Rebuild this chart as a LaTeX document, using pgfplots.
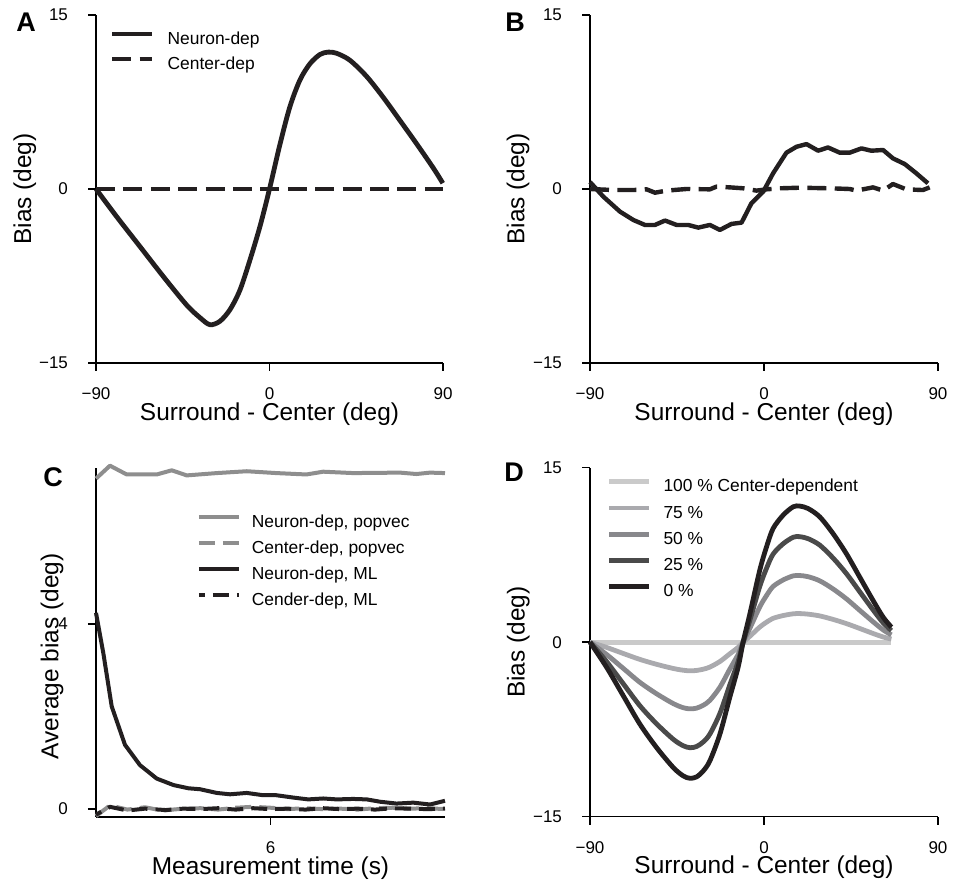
\documentclass[border=0pt]{standalone}
\usepackage{pgfplots}
\pgfplotsset{compat=1.18}
\usepackage{pgfplotstable}
\usepackage{fontspec}
\setmainfont{Liberation Sans}

\definecolor{ink}{HTML}{231F20}
\definecolor{pop}{HTML}{8E8E8E}
\definecolor{g100}{HTML}{CACACA}
\definecolor{g75}{HTML}{AAAAAE}
\definecolor{g50}{HTML}{88888C}
\definecolor{g25}{HTML}{4A4A4A}
\definecolor{g0}{HTML}{231F20}

% panel D: mixtures of neuron- and center-dependent models
\pgfplotstableread{
x      p0      p25    p50    p75
-90    0       0      0      0
-81.4  -2.16   -1.67  -1.06  -0.45
-72.8  -4.60   -3.57  -2.25  -0.97
-64.2  -7.04   -5.46  -3.45  -1.48
-55.6  -9.05   -7.01  -4.43  -1.90
-46.9  -10.78  -8.35  -5.28  -2.26
-41.8  -11.49  -8.90  -5.63  -2.41
-38.3  -11.70  -9.07  -5.73  -2.46
-34.9  -11.58  -8.97  -5.67  -2.43
-31.4  -11.06  -8.57  -5.42  -2.32
-28.0  -10.20  -7.90  -5.00  -2.14
-22.8  -7.90   -6.12  -3.87  -1.66
-17.7  -4.74   -3.67  -2.32  -1.00
-13.4  -2.16   -1.67  -1.06  -0.45
-10.8  0       0      0      0
-7.3   2.44    1.89   1.20   0.51
-2.2   6.18    4.79   3.03   1.30
1.3    8.19    6.35   4.01   1.72
4.7    9.77    7.57   4.79   2.05
9.9    10.92   8.46   5.35   2.29
15.1   11.64   9.02   5.70   2.44
18.5   11.70   9.07   5.73   2.46
22.8   11.49   8.90   5.63   2.41
28.8   10.78   8.35   5.28   2.26
35.7   9.34    7.24   4.58   1.96
42.6   7.61    5.90   3.73   1.60
49.5   5.60    4.34   2.74   1.18
56.4   3.59    2.78   1.76   0.75
61.6   2.16    1.67   1.06   0.45
65.9   1.29    1.00   0.63   0.27
}\mixtab

\pgfplotsset{
  panel/.style={
    scale only axis,
    axis lines*=left,
    axis line style={line width=0.8pt, black},
    tick align=outside,
    major tick length=4pt,
    tick style={line width=0.8pt, black},
    tick label style={font=\fontsize{8.5}{10}\selectfont},
    xticklabel style={yshift=-5pt},
    yticklabel style={xshift=-6.5pt},
    label style={font=\fontsize{12.2}{14}\selectfont},
    clip=false,
    legend cell align=left,
    legend image code/.code={\draw[##1] (0pt,2.8pt) -- (20pt,2.8pt);},
    legend style={draw=none, fill=none, inner sep=0pt, outer sep=0pt,
      font=\fontsize{8.7}{10}\selectfont,
      nodes={inner sep=0pt, text height=6.5pt, text depth=2pt,
        font=\fontsize{8.7}{10}\selectfont}},
  },
  angle/.style={
    xmin=-90, xmax=90, ymin=-15, ymax=15,
    xtick={-90,0,90}, xticklabels={−90,0,90},
    ytick={-15,0,15}, yticklabels={−15,0,15},
    xlabel={Surround - Center (deg)}, ylabel={Bias (deg)},
  },
  dashA/.style={dash pattern=on 9.5pt off 4.2pt},
}

\begin{document}
\begin{tikzpicture}
\path[use as bounding box] (0pt,0pt) rectangle (482pt,441pt);

% A
\begin{axis}[panel, angle, at={(48pt,259.5pt)}, anchor=south west,
  width=173.5pt, height=174pt,
  xlabel style={at={(axis description cs:0.5,-0.146)}, anchor=center},
  ylabel style={at={(axis description cs:-0.205,0.5)}, anchor=center},
  legend style={at={(axis description cs:0.040,0.954)}, anchor=north west,
    row sep=4pt, column sep=6.5pt}]
\addplot[ink, line width=2.4pt, smooth, line join=round] coordinates {
(-90,0) (-79.3,-2.38) (-67.2,-4.96) (-55.1,-7.54) (-43.0,-10.0) (-36.0,-11.1)
(-30.9,-11.7) (-25.7,-11.4) (-20.5,-10.4) (-15.3,-8.7) (-10.1,-6.1) (-4.9,-3.2)
(0,0) (5.5,3.9) (10.6,7.1) (15.8,9.4) (21.0,10.8) (26.2,11.6) (30.5,11.8)
(34.8,11.7) (41.7,11.1) (50.4,9.7) (59.0,7.9) (67.7,5.9) (76.3,3.9) (85.0,1.8) (89.9,0.5)};
\addlegendentry{Neuron-dep}
\addplot[ink, line width=2.4pt, dashA] coordinates {(-90,0) (90,0)};
\addlegendentry{Center-dep}
\end{axis}

% B
\begin{axis}[panel, angle, at={(295pt,259.5pt)}, anchor=south west,
  width=174pt, height=174pt,
  xlabel style={at={(axis description cs:0.5,-0.148)}, anchor=center},
  ylabel style={at={(axis description cs:-0.207,0.5)}, anchor=center}]
\addplot[ink, line width=2.2pt, line join=round] coordinates {
(-90,0.6) (-83.1,-0.66) (-74.5,-1.95) (-67.6,-2.67) (-61.6,-3.10) (-56.4,-3.10)
(-51.2,-2.72) (-45.2,-3.10) (-39.2,-3.10) (-34.0,-3.33) (-28.0,-3.10) (-22.8,-3.53)
(-16.8,-3.01) (-11.6,-2.90) (-6.5,-1.23) (-0.4,-0.23) (4.7,1.35) (11.6,3.13)
(16.8,3.64) (22.0,3.87) (28.0,3.30) (33.1,3.58) (39.2,3.13) (44.3,3.13) (50.4,3.50)
(55.5,3.30) (61.6,3.36) (66.7,2.64) (72.8,2.15) (78.8,1.35) (84.8,0.49)};
\addplot[ink, line width=2.2pt, dashA, line join=round] coordinates {
(-90,0) (-77.9,-0.09) (-67.6,-0.09) (-60.7,-0.03) (-56.4,-0.32) (-50.4,-0.14)
(-40.1,0) (-28.0,-0.03) (-24.6,0.2) (-17.7,0.14) (-10.8,0.06) (-3.9,-0.14)
(1.3,-0.03) (8.2,0.06) (18.5,0.11) (34.0,0.06) (44.3,0) (47.8,-0.14) (56.4,0.14)
(61.6,-0.14) (66.7,0.43) (73.6,-0.03) (82.2,-0.09) (85.7,0.14)};
\end{axis}

% C
\begin{axis}[panel, at={(48pt,32.5pt)}, anchor=south west,
  width=174.5pt, height=174.5pt,
  xmin=1, xmax=11, ymin=-0.17, ymax=7.37,
  xtick={6}, xticklabels={6}, ytick={0,4}, yticklabels={0,4},
  xlabel={Measurement time (s)}, ylabel={Average bias (deg)},
  xlabel style={at={(axis description cs:0.5,-0.146)}, anchor=center},
  ylabel style={at={(axis description cs:-0.126,0.46)}, anchor=center},
  legend style={at={(axis description cs:0.289,0.868)}, anchor=north west,
    row sep=4.5pt, column sep=5.5pt}]
\addplot[pop, line width=2pt, line join=round] coordinates {
(1,7.14) (1.40,7.42) (1.88,7.23) (2.74,7.23) (3.17,7.32) (3.60,7.21) (4.46,7.26)
(5.32,7.30) (6.17,7.26) (7.03,7.23) (7.51,7.29) (8.37,7.26) (9.71,7.27)
(10.18,7.24) (10.57,7.27) (11,7.26)};
\addlegendentry{Neuron-dep, popvec}
\addplot[pop, line width=2pt, dash pattern=on 8pt off 4pt, line join=round] coordinates {
(1,-0.15) (1.4,0.08) (1.9,-0.01) (2.4,0.04) (2.9,-0.03) (3.5,0.01) (4,0.02)
(4.5,-0.01) (5,0.03) (5.5,0.05) (6,0.03) (6.5,0.0) (7,0.02) (7.5,0.0) (8,0.01)
(8.5,-0.01) (9,0.02) (9.5,0.03) (10,0.01) (10.5,0.02) (11,0.0)};
\addlegendentry{Center-dep, popvec}
\addplot[ink, line width=2pt, line join=round] coordinates {
(1,4.24) (1.21,3.37) (1.45,2.22) (1.83,1.39) (2.26,0.95) (2.74,0.66) (3.22,0.52)
(3.65,0.45) (3.98,0.43) (4.46,0.35) (4.84,0.32) (5.32,0.35) (5.79,0.30) (6.17,0.30)
(6.65,0.25) (7.08,0.21) (7.51,0.23) (7.90,0.21) (8.37,0.22) (8.76,0.21) (9.14,0.16)
(9.61,0.12) (10.09,0.14) (10.57,0.10) (11,0.18)};
\addlegendentry{Neuron-dep, ML}
\addplot[ink, line width=2pt, dash pattern=on 8pt off 4pt, dash phase=5pt, line join=round] coordinates {
(1,-0.12) (1.4,0.05) (1.9,-0.03) (2.4,0.01) (3,-0.02) (3.5,0.01) (4,0.0) (4.5,0.02)
(5,-0.01) (5.5,0.02) (6,0.0) (6.5,0.01) (7,-0.01) (7.5,0.02) (8,0.0) (8.5,0.01)
(9,-0.01) (9.5,0.02) (10,0.01) (10.5,0.0) (11,0.01)};
\addlegendentry{Cender-dep, ML}
\end{axis}

% D
\begin{axis}[panel, angle, at={(295pt,32.65pt)}, anchor=south west,
  width=174pt, height=174.5pt,
  xlabel style={at={(axis description cs:0.5,-0.146)}, anchor=center},
  ylabel style={at={(axis description cs:-0.206,0.5)}, anchor=center},
  legend style={at={(axis description cs:0.048,0.968)}, anchor=north west,
    row sep=4.6pt, column sep=6pt}]
\addplot[g100, line width=2.4pt] coordinates {(-90,0) (65.9,0)};
\addlegendentry{100 \% Center-dependent}
\addplot[g75, line width=2.4pt, smooth, line join=round] table[x=x, y=p75] {\mixtab};
\addlegendentry{75 \%}
\addplot[g50, line width=2.4pt, smooth, line join=round] table[x=x, y=p50] {\mixtab};
\addlegendentry{50 \%}
\addplot[g25, line width=2.4pt, smooth, line join=round] table[x=x, y=p25] {\mixtab};
\addlegendentry{25 \%}
\addplot[g0, line width=2.4pt, smooth, line join=round] table[x=x, y=p0] {\mixtab};
\addlegendentry{0 \%}
\end{axis}

\node[font=\fontsize{13.5}{16}\selectfont\bfseries] at (13pt,430pt) {A};
\node[font=\fontsize{13.5}{16}\selectfont\bfseries] at (257.5pt,430pt) {B};
\node[font=\fontsize{13.5}{16}\selectfont\bfseries] at (26.5pt,202.5pt) {C};
\node[font=\fontsize{13.5}{16}\selectfont\bfseries] at (257pt,205pt) {D};
\end{tikzpicture}
\end{document}
